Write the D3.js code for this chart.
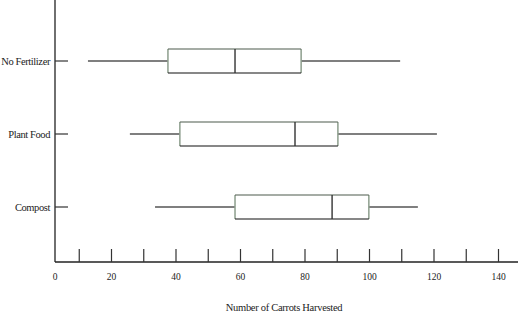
<!DOCTYPE html>
<html>
<head>
<meta charset="utf-8">
<script src="https://cdn.jsdelivr.net/npm/d3@7"></script>
<style>
body { margin: 0; background: #fff; }
svg { display: block; }
text { font-family: "Liberation Serif", "DejaVu Serif", serif; fill: #222; }
</style>
</head>
<body>
<div id="chart"></div>
<script>
var width = 518, height = 312;

// data
var groups = ["No Fertilizer", "Plant Food", "Compost"];
var mins    = [12.7, 25.7, 33.5];
var q1s     = [37.5, 41.2, 58.3];
var medians = [58.3, 76.9, 88.4];
var q3s     = [78.8, 90.2, 99.8];
var maxs    = [109.5, 120.9, 115];
var tickLabels = [0, 20, 40, 60, 80, 100, 120, 140];
var minorTicks = [10, 20, 30, 40, 50, 60, 70, 80, 90, 100, 110, 120, 130, 140];

var axisX = 55, axisY = 262;

var x = d3.scaleLinear().domain([0, 140]).range([47, 498.5]);
var y = d3.scalePoint().domain(groups).range([61, 207]);
var boxH = 24;

var svg = d3.select("#chart").append("svg")
    .attr("width", width)
    .attr("height", height);

// vertical axis line
svg.append("line")
    .attr("x1", axisX).attr("x2", axisX)
    .attr("y1", 0).attr("y2", axisY)
    .attr("stroke", "#222").attr("stroke-width", 1.3);

// horizontal axis line
svg.append("line")
    .attr("x1", axisX).attr("x2", width)
    .attr("y1", axisY).attr("y2", axisY)
    .attr("stroke", "#222").attr("stroke-width", 1.3);

// tick marks pointing up
svg.selectAll(".xtick")
    .data(minorTicks)
    .enter().append("line")
    .attr("class", "xtick")
    .attr("x1", function(d) { return x(d); })
    .attr("x2", function(d) { return x(d); })
    .attr("y1", axisY).attr("y2", axisY - 13)
    .attr("stroke", "#333").attr("stroke-width", 1.2);

// tick labels (the 0 sits at the y axis)
svg.selectAll(".xlab")
    .data(tickLabels)
    .enter().append("text")
    .attr("class", "xlab")
    .attr("x", function(d) { return d == 0 ? axisX : x(d); })
    .attr("y", 280)
    .attr("text-anchor", "middle")
    .attr("font-size", "9.5px")
    .text(function(d) { return d; });

svg.append("text")
    .attr("x", 284)
    .attr("y", 311)
    .attr("text-anchor", "middle")
    .attr("font-size", "10.5px")
    .attr("letter-spacing", "-0.3px")
    .text("Number of Carrots Harvested");

// category ticks and labels
groups.forEach(function(g, i) {
    var cy = y(g);
    svg.append("line")
        .attr("x1", axisX).attr("x2", axisX + 13)
        .attr("y1", cy).attr("y2", cy)
        .attr("stroke", "#333").attr("stroke-width", 1.2);
    svg.append("text")
        .attr("x", 50)
        .attr("y", cy + 3.5)
        .attr("text-anchor", "end")
        .attr("font-size", "10.5px")
        .attr("letter-spacing", "-0.4px")
        .text(g);

    // whiskers
    svg.append("line")
        .attr("x1", x(mins[i])).attr("x2", x(q1s[i]))
        .attr("y1", cy).attr("y2", cy)
        .attr("stroke", "#555").attr("stroke-width", 1.5);
    svg.append("line")
        .attr("x1", x(q3s[i])).attr("x2", x(maxs[i]))
        .attr("y1", cy).attr("y2", cy)
        .attr("stroke", "#555").attr("stroke-width", 1.5);

    var top = cy - boxH / 2, bot = cy + boxH / 2;
    // box sides (grey green)
    svg.append("line")
        .attr("x1", x(q1s[i])).attr("x2", x(q1s[i]))
        .attr("y1", top).attr("y2", bot)
        .attr("stroke", "#8d9e8d").attr("stroke-width", 1.5);
    svg.append("line")
        .attr("x1", x(q3s[i])).attr("x2", x(q3s[i]))
        .attr("y1", top).attr("y2", bot)
        .attr("stroke", "#8d9e8d").attr("stroke-width", 1.5);
    // top and bottom
    svg.append("line")
        .attr("x1", x(q1s[i])).attr("x2", x(q3s[i]))
        .attr("y1", top).attr("y2", top)
        .attr("stroke", "#4d5a4d").attr("stroke-width", 1.2);
    svg.append("line")
        .attr("x1", x(q1s[i])).attr("x2", x(q3s[i]))
        .attr("y1", bot).attr("y2", bot)
        .attr("stroke", "#111").attr("stroke-width", 1.2);
    // median
    svg.append("line")
        .attr("x1", x(medians[i])).attr("x2", x(medians[i]))
        .attr("y1", top).attr("y2", bot)
        .attr("stroke", "#333").attr("stroke-width", 1.4);
});
</script>
</body>
</html>
